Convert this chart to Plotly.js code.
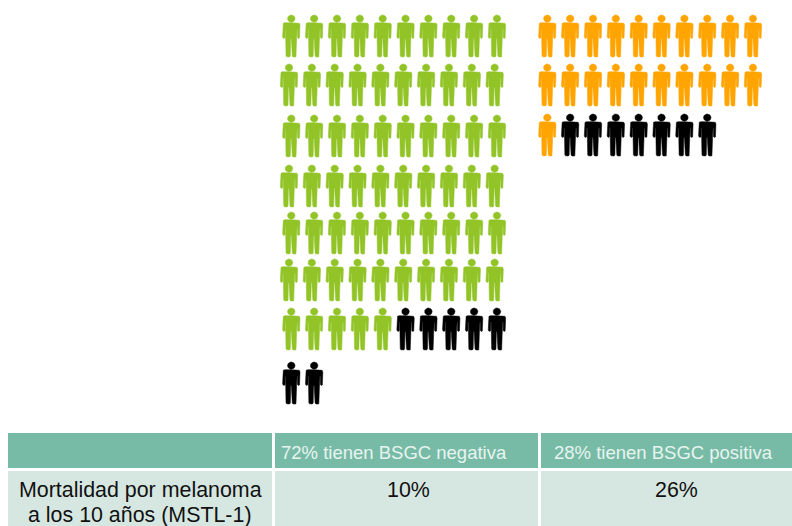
<!DOCTYPE html>
<html><head><meta charset="utf-8">
<script src="https://cdn.plot.ly/plotly-3.0.1.min.js"></script>
<style>html,body{margin:0;padding:0;background:#fff;overflow:hidden}</style>
</head><body><div id="chart" style="width:800px;height:560px"></div>
<script>
// Counts of people per row
const leftRowGreen  = [10,10,10,10,10,10,5,0];
const leftRowBlack  = [0,0,0,0,0,0,5,2];
const rightRowOrange = [10,10,1];
const rightRowBlack  = [0,0,7];
// Table content
const headerLabels = ['72% tienen BSGC negativa', '28% tienen BSGC positiva'];
const rowLabelLines = ['Mortalidad por melanoma','a los 10 años (MSTL-1)'];
const bodyValues = ['10%','26%'];

// Layout of the pictogram on the pixel-scaled axes
const W=800,H=560;
const leftRowTop = [15,64,115,165,212,259,308,362];
const leftRowX   = [291.3,289,291.3,289,291.3,289,291.3,291.3];
const rightRowTop = [15,64,114];
const rightRowX   = [547.3,547.3,547.3];
const STEP = 22.85;

const half = [[0,7.7],[6.5,7.7],[8,8.3],[8.7,10],[8.7,21.8],[8.2,23],[7,23.4],[6.2,22.6],[6.2,14],[5.8,14],
  [5.3,24],[5.3,40.8],[4.7,41.8],[3.6,42],[1.8,42],[0.95,41],[0.6,24],[0,23.4]];
const bodyOutline = half.concat(half.slice(1,-1).reverse().map(p=>[-p[0],p[1]]));
const headOutline = [];
for (let i=0;i<=20;i++){const a=i/20*2*Math.PI;headOutline.push([3.8*Math.cos(a),3.6+3.6*Math.sin(a)]);}

function addPerson(xs,ys,cx,top){
  [bodyOutline,headOutline].forEach(o=>{
    o.forEach(p=>{xs.push(cx+p[0]);ys.push(top+p[1]);});
    xs.push(cx+o[0][0]);ys.push(top+o[0][1]);
    xs.push(null);ys.push(null);
  });
}
function people(first,second,rowX,rowTop){
  const a={x:[],y:[]},b={x:[],y:[]};
  first.forEach((n,r)=>{
    for(let c=0;c<n+second[r];c++){
      const t=c<n?a:b;
      addPerson(t.x,t.y,rowX[r]+c*STEP,rowTop[r]);
    }
  });
  return [a,b];
}
function tr(d,color){return {type:'scatter',mode:'lines',x:d.x,y:d.y,fill:'toself',fillcolor:color,
  line:{width:0.5,color:color},hoverinfo:'skip',showlegend:false,xaxis:'x',yaxis:'y'};}
const [lg,lb]=people(leftRowGreen,leftRowBlack,leftRowX,leftRowTop);
const [ro,rb]=people(rightRowOrange,rightRowBlack,rightRowX,rightRowTop);

const table={type:'table',domain:{x:[6.5/W,796/W],y:[0,(H-431.5)/H]},
  columnwidth:[267.5,265.5,256.5],
  header:{values:[[''],[''],['']],height:38,
    fill:{color:'#77bba6'},line:{color:'#ffffff',width:3}},
  cells:{values:[[''],[''],['']],height:90,
    fill:{color:'#d6e7e1'},line:{color:'#ffffff',width:3}}
};
function note(text,x,y,size,color){return {text:text,x:x,y:y,xref:'x',yref:'y',xanchor:'center',yanchor:'middle',
  showarrow:false,font:{family:'Liberation Sans',size:size,color:color}};}
const axis={visible:false,fixedrange:true};
Plotly.newPlot('chart',[tr(lg,'#92c428'),tr(lb,'#000000'),tr(ro,'#ffa400'),tr(rb,'#000000'),table],{
  width:W,height:H,margin:{l:0,r:0,t:0,b:0},paper_bgcolor:'#fff',plot_bgcolor:'#fff',
  xaxis:Object.assign({range:[0,W],domain:[0,1]},axis),
  yaxis:Object.assign({range:[H,0],domain:[0,1]},axis),
  annotations:[
    note(headerLabels[0],393.5,452.5,18.5,'#e8f4f0'),
    note(headerLabels[1],663,452.5,18.5,'#e8f4f0'),
    note(rowLabelLines[0],140.5,490,21.4,'#111111'),
    note(rowLabelLines[1],139.5,515,21.4,'#111111'),
    note(bodyValues[0],408,490,21.4,'#111111'),
    note(bodyValues[1],676,490,21.4,'#111111')
  ]
},{displayModeBar:false,staticPlot:true});
</script></body></html>
